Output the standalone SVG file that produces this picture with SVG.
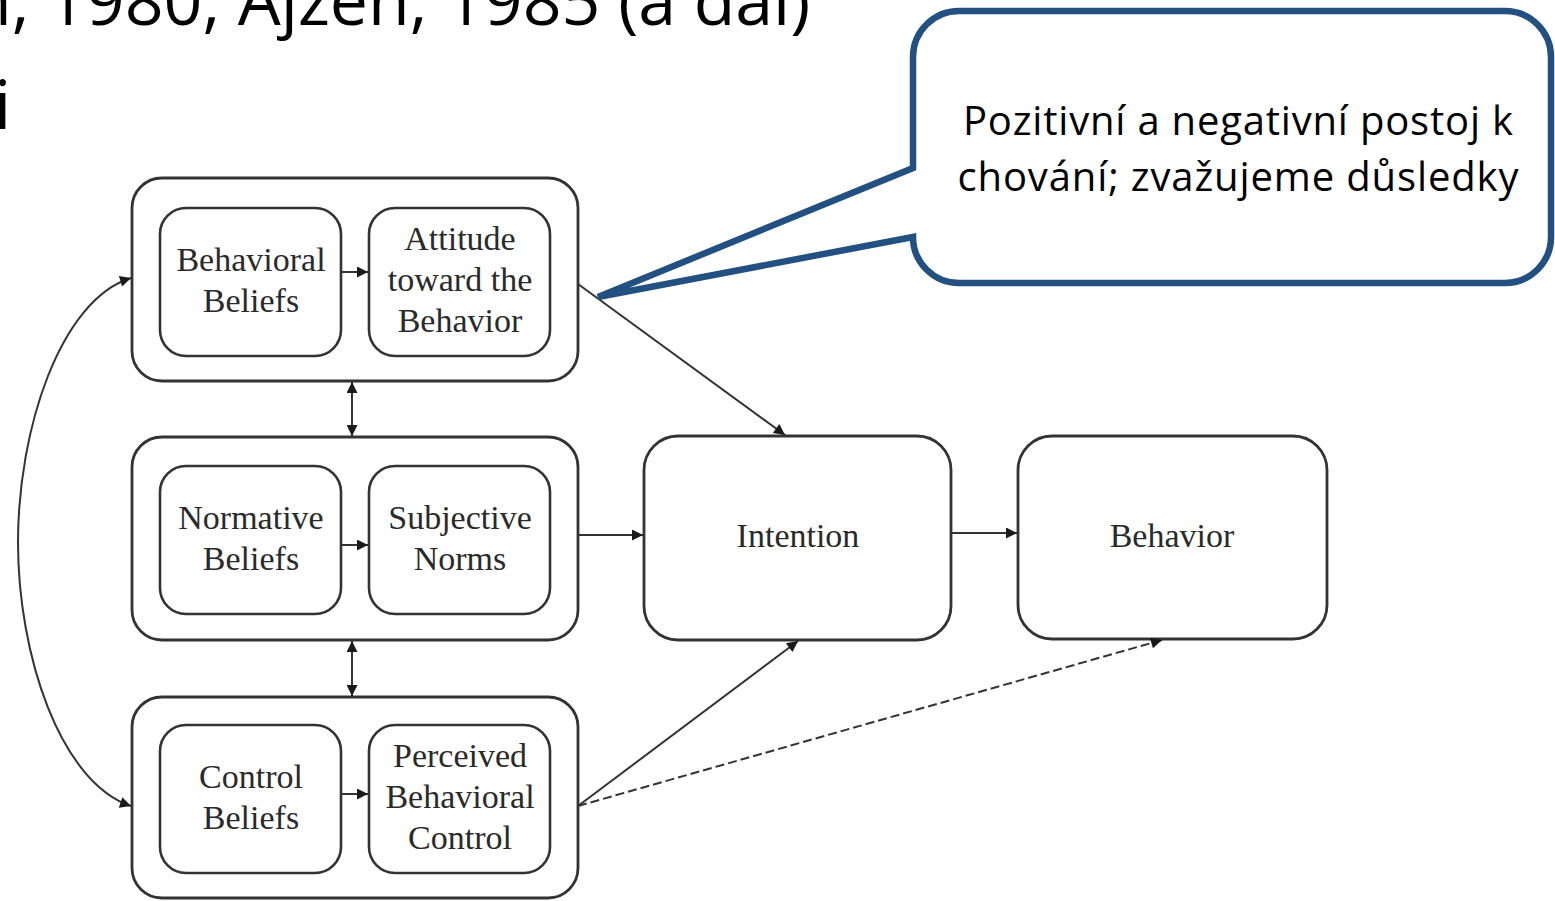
<svg xmlns="http://www.w3.org/2000/svg" width="1555" height="901" viewBox="0 0 1555 901">
<defs>
<marker id="ah" viewBox="0 0 10 10" refX="10" refY="5" markerWidth="13" markerHeight="11" markerUnits="userSpaceOnUse" orient="auto-start-reverse">
<path d="M0,0 L10,5 L0,10 Z" fill="#1a1a1a"/>
</marker>
</defs>
<style>
.box{fill:#fff;stroke:#333;stroke-width:2.8}
.ibox{fill:#fff;stroke:#333;stroke-width:2.6}
.lbl{font-family:"Liberation Serif","Times New Roman",serif;font-size:34px;fill:#2a2a2a;text-anchor:middle}
.con{fill:none;stroke:#333;stroke-width:2}
.dash{stroke-dasharray:9 4}
.slide{font-family:"Open Sans","Liberation Sans",sans-serif;fill:#000}
.call{font-family:"Open Sans","Liberation Sans",sans-serif;font-size:40px;fill:#000;text-anchor:middle}
</style>
<rect width="1555" height="901" fill="#fff"/>
<g id="slide-text">
<text class="slide" x="-30" y="25" font-size="68">n, 1980, Ajzen, 1985 (a dal)</text>
<text class="slide" x="-6" y="129" font-size="68">i</text>
</g>
<g id="attitude-group">
<rect class="box" x="132" y="178" width="446" height="203" rx="30"/>
<g id="behavioral-beliefs"><rect class="ibox" x="160" y="208" width="181" height="148" rx="26"/>
<text class="lbl" x="251" y="271">Behavioral</text><text class="lbl" x="251" y="312">Beliefs</text></g>
<g id="attitude"><rect class="ibox" x="369" y="208" width="181" height="148" rx="26"/>
<text class="lbl" x="460" y="250">Attitude</text><text class="lbl" x="460" y="291">toward the</text><text class="lbl" x="460" y="332">Behavior</text></g>
</g>
<g id="norms-group">
<rect class="box" x="132" y="437" width="446" height="203" rx="30"/>
<g id="normative-beliefs"><rect class="ibox" x="160" y="466" width="181" height="148" rx="26"/>
<text class="lbl" x="251" y="529">Normative</text><text class="lbl" x="251" y="570">Beliefs</text></g>
<g id="subjective-norms"><rect class="ibox" x="369" y="466" width="181" height="148" rx="26"/>
<text class="lbl" x="460" y="529">Subjective</text><text class="lbl" x="460" y="570">Norms</text></g>
</g>
<g id="control-group">
<rect class="box" x="132" y="697" width="446" height="201" rx="30"/>
<g id="control-beliefs"><rect class="ibox" x="160" y="725" width="181" height="148" rx="26"/>
<text class="lbl" x="251" y="788">Control</text><text class="lbl" x="251" y="829">Beliefs</text></g>
<g id="pbc"><rect class="ibox" x="369" y="725" width="181" height="148" rx="26"/>
<text class="lbl" x="460" y="767">Perceived</text><text class="lbl" x="460" y="808">Behavioral</text><text class="lbl" x="460" y="849">Control</text></g>
</g>
<g id="intention"><rect class="box" x="644" y="436" width="307" height="204" rx="34"/>
<text class="lbl" x="798" y="547">Intention</text></g>
<g id="behavior"><rect class="box" x="1018" y="436" width="309" height="203" rx="34"/>
<text class="lbl" x="1172" y="547">Behavior</text></g>
<g id="connectors">
<line class="con" x1="341" y1="272" x2="368" y2="272" marker-end="url(#ah)"/>
<line class="con" x1="341" y1="545" x2="368" y2="545" marker-end="url(#ah)"/>
<line class="con" x1="341" y1="794" x2="368" y2="794" marker-end="url(#ah)"/>
<line class="con" x1="352" y1="382" x2="352" y2="436" marker-start="url(#ah)" marker-end="url(#ah)"/>
<line class="con" x1="352" y1="641" x2="352" y2="696" marker-start="url(#ah)" marker-end="url(#ah)"/>
<line class="con" x1="578" y1="284" x2="785" y2="435" marker-end="url(#ah)"/>
<line class="con" x1="578" y1="535" x2="643" y2="535" marker-end="url(#ah)"/>
<line class="con" x1="951" y1="533" x2="1017" y2="533" marker-end="url(#ah)"/>
<line class="con" x1="578" y1="806" x2="798" y2="641" marker-end="url(#ah)"/>
<line class="con dash" x1="578" y1="806" x2="1162" y2="640" marker-end="url(#ah)"/>
<path class="con" d="M131,278 C60,300 18,430 18,542 C18,655 60,782 131,806" marker-start="url(#ah)" marker-end="url(#ah)"/>
</g>
<g id="callout">
<path d="M913,168 L913,57 A46,46 0 0 1 959,11 L1505,11 A46,46 0 0 1 1551,57 L1551,237 A46,46 0 0 1 1505,283 L959,283 A46,46 0 0 1 913,237 L598,297 Z" fill="#fff" stroke="#215081" stroke-width="6.5" stroke-linejoin="miter"/>
<text class="call" x="1238" y="135" textLength="550">Pozitivní a negativní postoj k</text>
<text class="call" x="1238" y="191" textLength="561">chování; zvažujeme důsledky</text>
</g>
</svg>
